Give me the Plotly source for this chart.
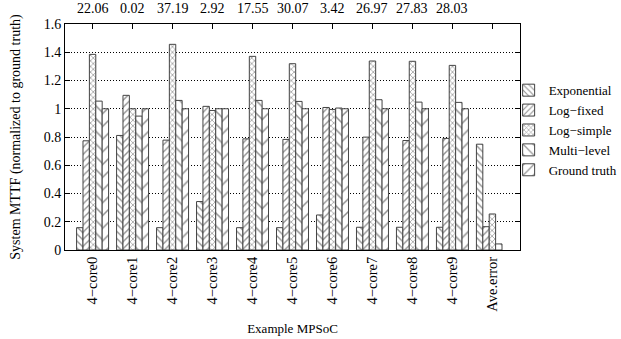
import plotly.graph_objects as go

categories = ["4\u2212core0", "4\u2212core1", "4\u2212core2", "4\u2212core3", "4\u2212core4",
              "4\u2212core5", "4\u2212core6", "4\u2212core7", "4\u2212core8", "4\u2212core9", "Ave.error"]
exponential = [0.158, 0.811, 0.158, 0.343, 0.158, 0.158, 0.248, 0.161, 0.161, 0.161, 0.749]
log_fixed = [0.773, 1.095, 0.778, 1.017, 0.787, 0.783, 1.009, 0.799, 0.775, 0.790, 0.165]
log_simple = [1.385, 1.000, 1.456, 0.988, 1.371, 1.319, 0.995, 1.338, 1.336, 1.307, 0.255]
multi_level = [1.054, 0.948, 1.059, 1.000, 1.059, 1.052, 1.005, 1.064, 1.047, 1.045, 0.043]
ground_truth = [1.0, 1.0, 1.0, 1.0, 1.0, 1.0, 1.0, 1.0, 1.0, 1.0, None]
top_errors = ["22.06", "0.02", "37.19", "2.92", "17.55", "30.07", "3.42", "26.97", "27.83", "28.03"]

series = [
    ("Exponential", exponential, "\\", 5, 0.28),
    ("Log\u2212fixed", log_fixed, "/", 5, 0.28),
    ("Log\u2212simple", log_simple, "x", 4, 0.32),
    ("Multi\u2212level", multi_level, "\\", 9, 0.17),
    ("Ground truth", ground_truth, "/", 9, 0.17),
]

FONT = "Liberation Serif"

fig = go.Figure()
for name, vals, shape, size, sol in series:
    fig.add_trace(go.Bar(
        name=name, x=categories, y=vals,
        marker=dict(color="white",
                    line=dict(color="#444444", width=1),
                    pattern=dict(shape=shape, size=size, solidity=sol,
                                 fgcolor="#222222", bgcolor="white",
                                 fillmode="overlay")),
    ))

for cat, txt in zip(categories, top_errors):
    fig.add_annotation(x=cat, y=1, xref="x", yref="paper", text=txt,
                       showarrow=False, yanchor="bottom", yshift=6,
                       font=dict(family=FONT, size=14, color="black"))

fig.update_layout(
    width=621, height=339,
    margin=dict(l=65, r=101, t=24, b=89, autoexpand=False),
    paper_bgcolor="white", plot_bgcolor="white",
    barmode="group", bargap=0.2, bargroupgap=0,
    font=dict(family=FONT, size=14, color="black"),
    showlegend=True,
    legend=dict(x=0.975, xanchor="left", y=0.53, yanchor="middle",
                bgcolor="rgba(0,0,0,0)", font=dict(family=FONT, size=13),
                itemwidth=30, traceorder="normal"),
    xaxis=dict(
        range=[-0.69, 10.69], tickangle=-90,
        tickfont=dict(family=FONT, size=14.5),
        showline=True, linecolor="black", linewidth=1, mirror="ticks",
        ticks="inside", ticklen=5, tickcolor="black", layer="below traces",
        showgrid=False,
        title=dict(text="Example MPSoC", font=dict(family=FONT, size=13), standoff=13),
    ),
    yaxis=dict(
        range=[0, 1.6], tickvals=[0, 0.2, 0.4, 0.6, 0.8, 1, 1.2, 1.4, 1.6],
        ticktext=["0", "0.2", "0.4", "0.6", "0.8", "1", "1.2", "1.4", "1.6"],
        tickfont=dict(family=FONT, size=14),
        showline=True, linecolor="black", linewidth=1, mirror="ticks",
        ticks="inside", ticklen=5, tickcolor="black",
        showgrid=True, gridcolor="black", griddash="1px,2px", gridwidth=1,
        zeroline=False,
        title=dict(text="System MTTF (normalized to ground truth)",
                   font=dict(family=FONT, size=14), standoff=19),
    ),
)

fig.write_html("out.html")
